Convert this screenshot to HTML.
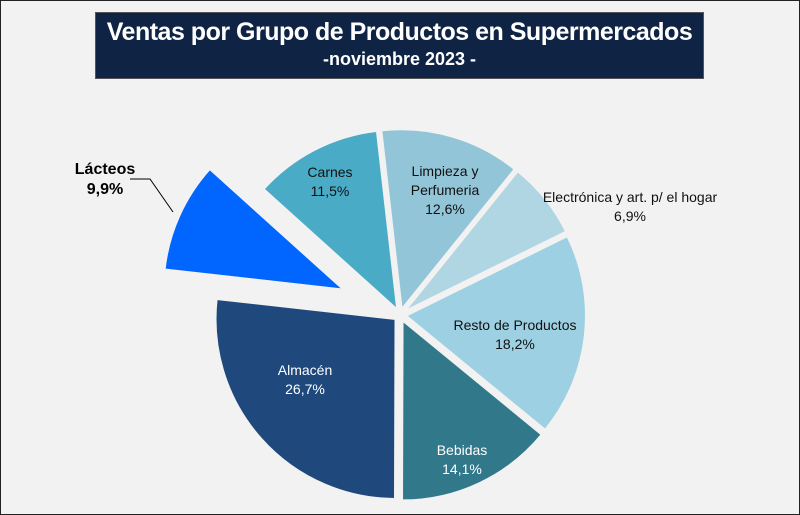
<!DOCTYPE html>
<html><head><meta charset="utf-8"><style>
body{margin:0;width:800px;height:515px;background:#f2f2f2;font-family:"Liberation Sans",sans-serif;overflow:hidden}
#frame{position:absolute;left:0;top:0;width:798px;height:513px;border:1px solid #222;background:#f2f2f2}
#title{position:absolute;left:95px;top:12px;width:607px;height:65px;background:#0f2445;border:1px solid #555;color:#fff;text-align:center}
#t1{font-size:25px;font-weight:bold;margin-top:5px;letter-spacing:-0.5px}
#t2{font-size:18px;font-weight:bold;margin-top:2px}
</style></head><body>
<div id="frame"></div>
<div id="title"><div id="t1">Ventas por Grupo de Productos en Supermercados</div><div id="t2">-noviembre 2023 -</div></div>
<svg id="pie" width="800" height="515" style="position:absolute;left:0;top:0"></svg>
<script>
const categories=["Limpieza y\nPerfumeria","Electrónica y art. p/ el hogar","Resto de Productos","Bebidas","Almacén","Lácteos","Carnes"];
const values=[12.6,6.9,18.2,14.1,26.7,9.9,11.5];
const labels=["12,6%","6,9%","18,2%","14,1%","26,7%","9,9%","11,5%"];
const colors=["#92c5d8","#b0d5e3","#9dd0e2","#31788a","#1f497d","#0066ff","#4aabc6"];
const explode=[6,6,6,6,6,62,6];
const labelPos=[[445,176],[630,202],[515,330],[462,455],[305,375],[105,174],[330,177]];
const cx=400,cy=315,R=180;
const svg=document.getElementById('pie');const NS="http://www.w3.org/2000/svg";
const total=values.reduce((a,b)=>a+b,0);
let a0=-6.5*Math.PI/180;
function pt(ang,r,ox,oy){return [ox+r*Math.sin(ang),oy-r*Math.cos(ang)];}
values.forEach((v,i)=>{
  const a1=a0+v/total*2*Math.PI, mid=(a0+a1)/2;
  const ox=cx+explode[i]*Math.sin(mid), oy=cy-explode[i]*Math.cos(mid);
  const p0=pt(a0,R,ox,oy),p1=pt(a1,R,ox,oy);
  const p=document.createElementNS(NS,'path');
  p.setAttribute('d',`M${ox},${oy}L${p0[0]},${p0[1]}A${R},${R} 0 ${a1-a0>Math.PI?1:0} 1 ${p1[0]},${p1[1]}Z`);
  p.setAttribute('fill',colors[i]);p.setAttribute('stroke','#f2f2f2');p.setAttribute('stroke-width','2');
  
  
  svg.appendChild(p);
  let bold=i==5,col=(i==3||i==4)?'#fff':(bold?'#000':'#111');
  const lx=labelPos[i][0],ly=labelPos[i][1];
  if(i==5){
    const l=document.createElementNS(NS,'polyline');l.setAttribute('points','130,179 150,179 173,212');l.setAttribute('fill','none');l.setAttribute('stroke','#000');
    
    
    svg.appendChild(l);}
  const lines=categories[i].split("\n").concat([labels[i]]);
  const t=document.createElementNS(NS,'text');
  t.setAttribute('x',lx);t.setAttribute('y',ly);t.setAttribute('text-anchor','middle');
  t.setAttribute('font-size',bold?'16':'14');if(bold)t.setAttribute('font-weight','bold');t.setAttribute('fill',col);
  
  
  lines.forEach((s,k)=>{const ts=document.createElementNS(NS,'tspan');ts.setAttribute('x',lx);ts.setAttribute('dy',k?(bold?20:19):0);ts.textContent=s;t.appendChild(ts);});
  svg.appendChild(t);
  a0=a1;
});
</script>
</body></html>
